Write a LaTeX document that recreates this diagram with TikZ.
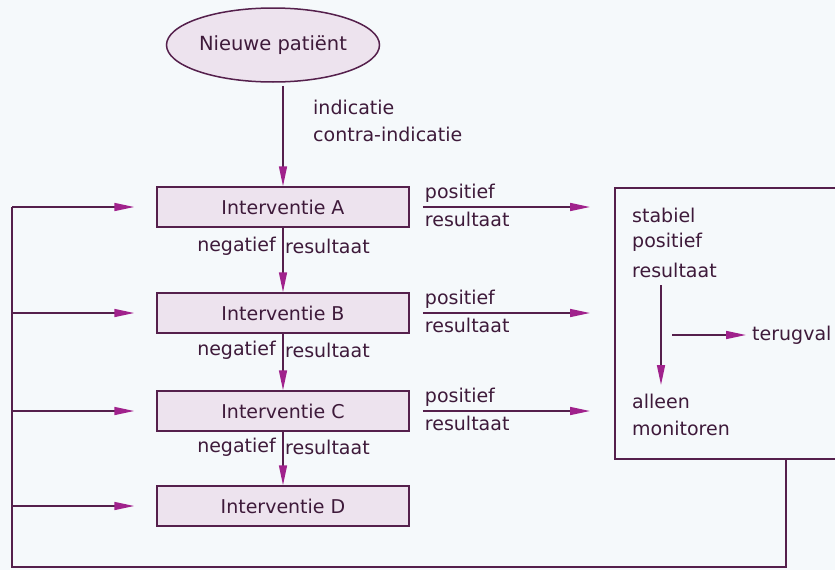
\documentclass[tikz,border=0pt]{standalone}
\usepackage{fontspec}
\setmainfont{DejaVu Sans}
\usetikzlibrary{arrows.meta,shapes.geometric}
\definecolor{bgc}{HTML}{F5F9FB}
\definecolor{txtc}{HTML}{3E1A3A}
\definecolor{linec}{HTML}{55204C}
\definecolor{tipc}{HTML}{A0228C}
\definecolor{boxc}{HTML}{EDE3EE}
\tikzset{
  lbl/.style={text=txtc,font=\fontsize{19}{21}\selectfont,inner sep=0pt,anchor=west},
  ibox/.style={draw=linec,line width=1.5pt,fill=boxc,minimum width=252pt,minimum height=40pt,inner sep=0pt,text=txtc,font=\fontsize{19}{21}\selectfont},
  arr/.style={draw=linec,line width=1.6pt,-{Triangle[length=20pt,width=8pt,color=tipc]}},
  plain/.style={draw=linec,line width=1.6pt}
}
\begin{document}
\begin{tikzpicture}[x=1pt,y=-1pt]
\fill[bgc] (0,0) rectangle (835,570);
\useasboundingbox (0,0) rectangle (835,570);
\clip (0,0) rectangle (835,570);
% start
\node[ellipse,draw=linec,line width=1.5pt,fill=boxc,minimum width=213pt,minimum height=74pt,inner sep=0pt,text=txtc,font=\fontsize{19.5}{21}\selectfont] (np) at (273,45) {Nieuwe patiënt};
\node[lbl] (ind) at (313,107) {indicatie};
\node[lbl] (cind) at (313,134) {contra-indicatie};
% intervention boxes
\node[ibox] (ia) at (283,207) {Interventie A};
\node[ibox] (ib) at (283,313) {Interventie B};
\node[ibox] (ic) at (283,411) {Interventie C};
\node[ibox] (id) at (283,506) {Interventie D};
% right box
\node[draw=linec,line width=1.5pt,minimum width=300pt,minimum height=271pt,inner sep=0pt,anchor=north west] (rb) at (614,187) {};
\node[lbl] (st) at (632,215) {stabiel};
\node[lbl] (sp) at (632,242) {positief};
\node[lbl] (sr) at (632,270) {resultaat};
\node[lbl] (al) at (632,401) {alleen};
\node[lbl] (mo) at (632,428) {monitoren};
\node[lbl] (tv) at (752,335) {terugval};
\coordinate (d1) at (661,285);
\coordinate (d2) at (661,385);
\coordinate (t1) at (672,335);
% arrows
\draw[arr] (ia.north |- np.south) ++(0,3) -- (ia.north);
\draw[arr] (ia.south) -- (ib.north);
\draw[arr] (ib.south) -- (ic.north);
\draw[arr] (ic.south) -- (id.north);
\foreach \n/\y in {A/246,B/350,C/447}{
  \node[lbl,anchor=east] (neg\n) at (276,\y) {negatief};
  \node[lbl] (nres\n) at (285,\y) {resultaat};
}
\foreach \b/\n in {ia/A,ib/B,ic/C}{
  \draw[arr,shorten <=13pt,shorten >=24pt] (\b.east) -- (\b.east -| rb.west);
  \node[lbl,anchor=south west] (pp\n) at ([xshift=15pt,yshift=4pt]\b.east) {positief};
  \node[lbl,anchor=north west] (pr\n) at ([xshift=15pt,yshift=-5pt]\b.east) {resultaat};
}
\draw[arr] (d1) -- (d2);
\draw[arr,shorten >=6pt] (t1) -- (tv.west);
% loop
\coordinate (loopR) at (786,567);
\coordinate (loopL) at (12,567);
\draw[plain] (rb.south -| loopR) -- (loopR) -- (loopL) -- (loopL |- ia.west);
\foreach \b in {ia,ib,ic,id}{
  \draw[arr,shorten >=22pt] (loopL |- \b.west) -- (\b.west);
}
\end{tikzpicture}
\end{document}
